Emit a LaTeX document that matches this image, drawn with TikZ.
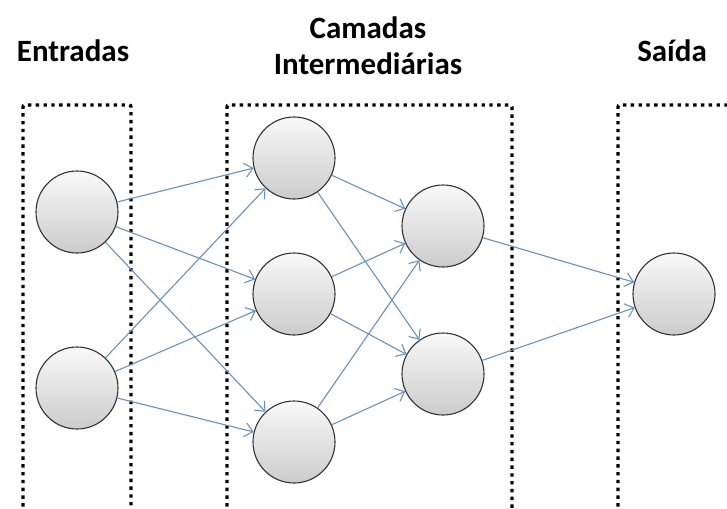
\documentclass[tikz,border=0pt]{standalone}
\usepackage{fontspec}
\setmainfont{Carlito}
\usetikzlibrary{arrows.meta}
\definecolor{linkblue}{RGB}{104,145,196}
\begin{document}
\begin{tikzpicture}[x=1pt,y=-1pt,
	neuron/.style={circle, draw=black!80, line width=1.1pt, minimum size=82pt, inner sep=0pt, top color=gray!5, bottom color=gray!40},
	layerbox/.style={black, line width=3.4pt, dash pattern=on 3.4pt off 4.4pt, rounded corners=2pt},
	link/.style={linkblue, line width=1.1pt, -{Straight Barb[length=8pt,width=14pt,line width=1.1pt]}},
	title/.style={font=\bfseries\fontsize{31}{37}\selectfont, anchor=base}]
	\useasboundingbox (0,0) rectangle (727,508);
	\clip (0,0) rectangle (727,508);
	% titles
	\node[title] (entradas) at (73,62) {Entradas};
	\node[title] (camadas) at (368,39) {Camadas};
	\node[title] (intermed) at (368,75) {Intermediárias};
	\node[title] (saida) at (672,62) {Saída};
	% layer boxes
	\draw[layerbox] (23,530) -- (23,105) -- (131,105) -- (131,530);
	\draw[layerbox] (227,530) -- (227,105) -- (512,105) -- (512,530);
	\draw[layerbox] (618,530) -- (618,105) -- (740,105);
	% neurons
	\node[neuron] (in1) at (77,212) {};
	\node[neuron] (in2) at (77,388) {};
	\node[neuron] (h1a) at (294,158) {};
	\node[neuron] (h1b) at (294,294) {};
	\node[neuron] (h1c) at (294,442) {};
	\node[neuron] (h2a) at (443,226) {};
	\node[neuron] (h2b) at (443,374) {};
	\node[neuron] (out) at (674,294) {};
	% connections
	\draw[link] (in1) -- (h1a);
	\draw[link] (in1) -- (h1b);
	\draw[link] (in1) -- (h1c);
	\draw[link] (in2) -- (h1a);
	\draw[link] (in2) -- (h1b);
	\draw[link] (in2) -- (h1c);
	\draw[link] (h1a) -- (h2a);
	\draw[link] (h1a) -- (h2b);
	\draw[link] (h1b) -- (h2a);
	\draw[link] (h1b) -- (h2b);
	\draw[link] (h1c) -- (h2a);
	\draw[link] (h1c) -- (h2b);
	\draw[link] (h2a) -- (out);
	\draw[link] (h2b) -- (out);
\end{tikzpicture}
\end{document}
